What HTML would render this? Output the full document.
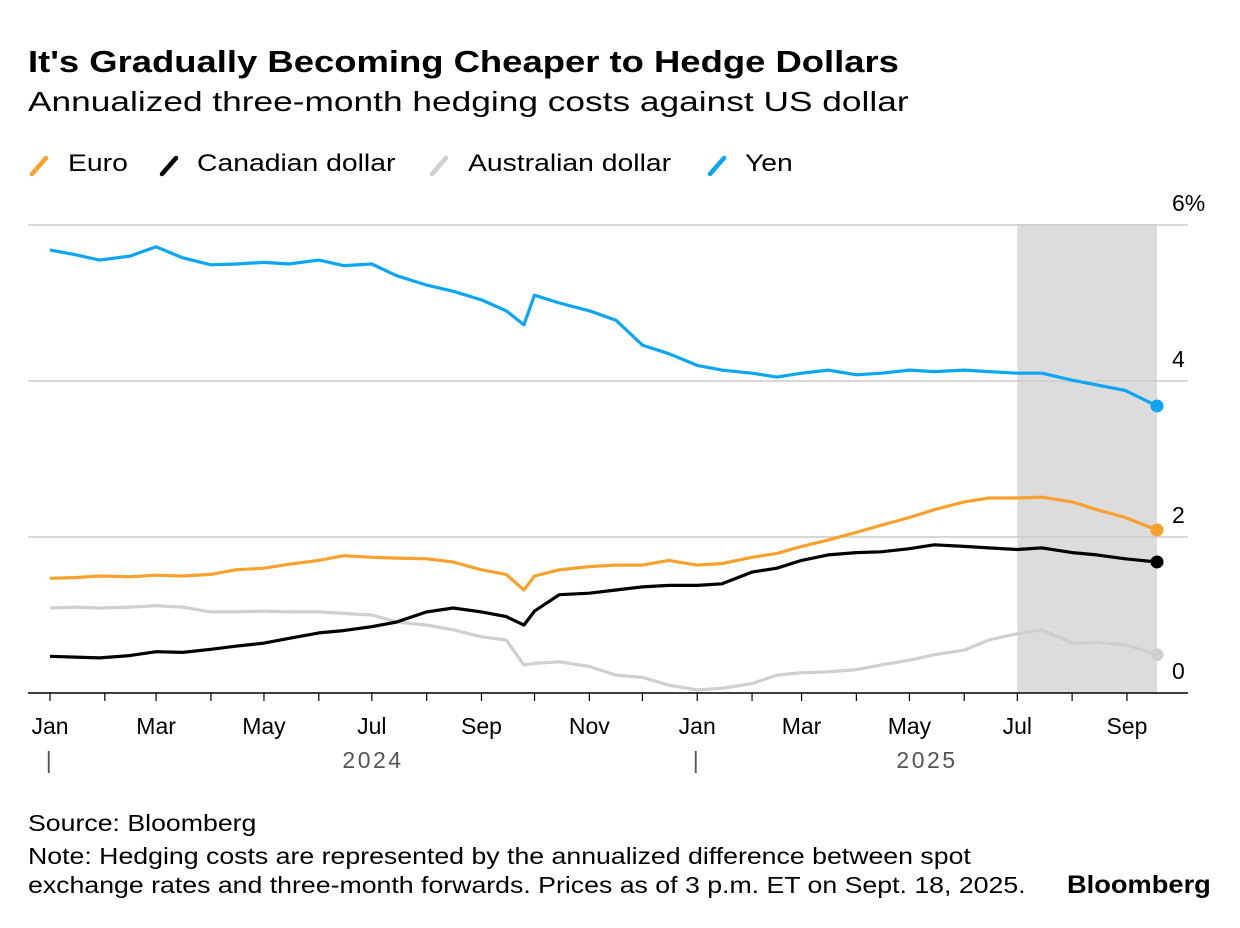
<!DOCTYPE html>
<html><head><meta charset="utf-8"><style>
body{margin:0;background:#fff;font-family:"Liberation Sans",sans-serif;color:#000}
#wrap{position:relative;width:1240px;height:928px;overflow:hidden}
.t{position:absolute;white-space:nowrap;transform-origin:0 0}
</style></head><body>
<div id="wrap">
<div class="t" style="left:28px;top:44px;font-size:31px;font-weight:bold;transform:scaleX(1.175)">It's Gradually Becoming Cheaper to Hedge Dollars</div>
<div class="t" style="left:28px;top:86px;font-size:28px;transform:scaleX(1.26)">Annualized three-month hedging costs against US dollar</div>
<div class="t" style="left:68px;top:150px;font-size:24px;transform:scaleX(1.18)">Euro</div>
<div class="t" style="left:197px;top:150px;font-size:24px;transform:scaleX(1.18)">Canadian dollar</div>
<div class="t" style="left:468px;top:150px;font-size:24px;transform:scaleX(1.18)">Australian dollar</div>
<div class="t" style="left:745px;top:150px;font-size:24px;transform:scaleX(1.18)">Yen</div>
<svg id="chart" width="1240" height="928" style="position:absolute;left:0;top:0"></svg>
<div class="t" style="left:28px;top:810px;font-size:23px;transform:scaleX(1.16)">Source: Bloomberg</div>
<div class="t" style="left:28px;top:842px;font-size:23px;line-height:29px;transform:scaleX(1.16)">Note: Hedging costs are represented by the annualized difference between spot<br>exchange rates and three-month forwards. Prices as of 3 p.m. ET on Sept. 18, 2025.</div>
<div class="t" style="left:1067px;top:871px;font-size:25px;font-weight:bold;transform:scaleX(1.09)">Bloomberg</div>
</div>
<script>
const days=[0,14,28,45,60,75,91,105,121,135,152,166,182,196,213,228,244,258,268,274,288,305,320,335,350,366,380,397,411,425,440,456,470,486,500,517,531,547,561,578,592,608,626];
const yen=[5.68,5.62,5.55,5.6,5.72,5.58,5.49,5.5,5.52,5.5,5.55,5.48,5.5,5.35,5.23,5.15,5.04,4.9,4.72,5.1,5.0,4.9,4.78,4.46,4.35,4.2,4.14,4.1,4.05,4.1,4.14,4.08,4.1,4.14,4.12,4.14,4.12,4.1,4.1,4.01,3.95,3.88,3.68];
const eur=[1.47,1.48,1.5,1.49,1.51,1.5,1.52,1.58,1.6,1.65,1.7,1.76,1.74,1.73,1.72,1.68,1.58,1.52,1.32,1.5,1.58,1.62,1.64,1.64,1.7,1.64,1.66,1.74,1.79,1.88,1.96,2.06,2.15,2.25,2.35,2.45,2.5,2.5,2.51,2.45,2.35,2.25,2.09];
const cad=[0.47,0.46,0.45,0.48,0.53,0.52,0.56,0.6,0.64,0.7,0.77,0.8,0.85,0.91,1.04,1.09,1.04,0.98,0.87,1.05,1.26,1.28,1.32,1.36,1.38,1.38,1.4,1.55,1.6,1.7,1.77,1.8,1.81,1.85,1.9,1.88,1.86,1.84,1.86,1.8,1.77,1.72,1.68];
const aud=[1.09,1.1,1.09,1.1,1.12,1.1,1.04,1.04,1.05,1.04,1.04,1.02,1.0,0.91,0.87,0.81,0.72,0.68,0.36,0.38,0.4,0.34,0.23,0.2,0.1,0.04,0.06,0.12,0.23,0.26,0.27,0.3,0.36,0.42,0.49,0.55,0.68,0.76,0.81,0.64,0.65,0.62,0.49];
const yTicks=[0,2,4,6];
const months=["Jan","Mar","May","Jul","Sep","Nov","Jan","Mar","May","Jul","Sep"];
const monthDays=[0,60,121,182,244,305,366,425,486,547,609];
const NS="http://www.w3.org/2000/svg";
const svg=document.getElementById('chart');
const X=d=>50+d*(1107/626);
const Y=v=>693-v*78;
function mk(t,a){const e=document.createElementNS(NS,t);for(const k in a)e.setAttribute(k,a[k]);svg.appendChild(e);return e;}
[[40,'#f9a12e'],[170,'#000'],[440,'#cfcfcf'],[718,'#0aa6f2']].forEach(([x,c])=>{
 let ic=mk('line',{x1:x-8,y1:174,x2:x+6,y2:158,stroke:c,'stroke-width':4.5,'stroke-linecap':'round'});
 
 
});
let sh=mk('rect',{x:X(547),y:224,width:X(626)-X(547),height:469,fill:'#dcdcdc'});


yTicks.forEach(v=>{
 if(v>0){let g=mk('line',{x1:28,x2:1188,y1:Y(v),y2:Y(v),stroke:'#ccc','stroke-width':1.5});
 
 }
 let t=mk('text',{x:1172,y:Y(v)-14,'font-size':23,'font-family':'Liberation Sans, sans-serif'});
 t.textContent=v===6?'6%':String(v);
 
 
});
let ax=mk('line',{x1:28,x2:1188,y1:693,y2:693,stroke:'#000','stroke-width':1.5});


for(let m=0;m<21;m++){
 const yr=2024+Math.floor(m/12),mo=m%12;
 const d=(Date.UTC(yr,mo,1)-Date.UTC(2024,0,1))/864e5;
 let tk=mk('line',{x1:X(d),x2:X(d),y1:693,y2:701,stroke:'#000','stroke-width':1.2});
 
 
}
months.forEach((m,i)=>{
 let t=mk('text',{x:X(monthDays[i]),y:734,'font-size':23,'text-anchor':'middle','font-family':'Liberation Sans, sans-serif'});
 t.textContent=m;
 
 
});
[[50,'|'],[697,'|'],[373,'2024'],[927,'2025']].forEach(([x,s])=>{
 let t=mk('text',{x:x,y:768,'font-size':23,'text-anchor':'middle',fill:'#555','letter-spacing':'2.5','font-family':'Liberation Sans, sans-serif'});
 t.textContent=s;
 
 
});
[[aud,'#cfcfcf','aud'],[cad,'#000','cad'],[eur,'#f9a12e','euro'],[yen,'#0aa6f2','yen']].forEach(([arr,c,n])=>{
 const p=arr.map((v,i)=>(i?'L':'M')+X(days[i]).toFixed(1)+','+Y(v).toFixed(1)).join('');
 let l=mk('path',{d:p,fill:'none',stroke:c,'stroke-width':3.2,'stroke-linejoin':'round'});
 
 
 let dot=mk('circle',{cx:X(days[days.length-1]),cy:Y(arr[arr.length-1]),r:6.5,fill:c});
 
 
});
</script>
</body></html>
